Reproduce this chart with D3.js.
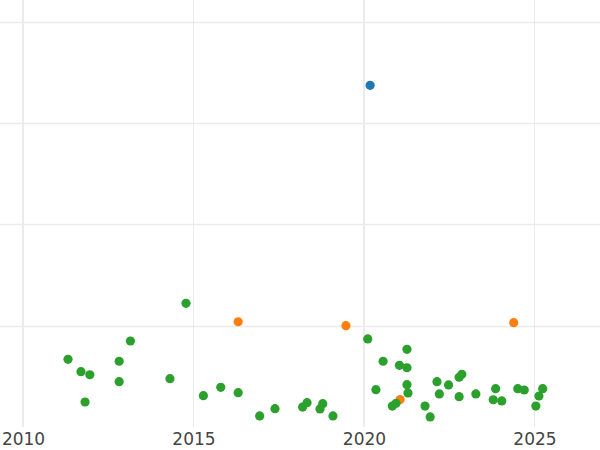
<!DOCTYPE html>
<html><head><meta charset="utf-8">
<script src="https://cdn.jsdelivr.net/npm/d3@7"></script>
<style>html,body{margin:0;padding:0;background:#fff;}svg{display:block;}</style>
</head><body>
<svg id="chart" width="600" height="450"></svg>
<script>
const xTicks = [2010, 2015, 2020, 2025];
const yTicks = [1, 2, 3, 4];

const blueX = [2020.18];
const blueY = [3.373];

const orangeX = [2016.31, 2019.47, 2021.06, 2024.39];
const orangeY = [1.039, 1.000, 0.271, 1.030];

const greenX = [2011.32, 2011.70, 2011.96, 2011.82, 2012.82, 2012.82, 2013.15, 2014.31, 2014.78,
  2015.29, 2015.80, 2016.31, 2016.94, 2017.39, 2018.20, 2018.33, 2018.71, 2018.79, 2019.09,
  2020.11, 2020.35, 2020.56, 2020.83, 2020.94, 2021.04, 2021.26, 2021.26, 2021.26, 2021.29,
  2021.79, 2021.94, 2022.14, 2022.21, 2022.48, 2022.79, 2022.79, 2022.87, 2023.28, 2023.79,
  2023.86, 2024.04, 2024.51, 2024.70, 2025.04, 2025.13, 2025.24];
const greenY = [0.668, 0.546, 0.516, 0.247, 0.649, 0.447, 0.849, 0.477, 1.221,
  0.309, 0.392, 0.339, 0.109, 0.181, 0.197, 0.240, 0.178, 0.230, 0.109,
  0.869, 0.368, 0.649, 0.207, 0.234, 0.609, 0.767, 0.585, 0.418, 0.336,
  0.207, 0.099, 0.447, 0.326, 0.415, 0.299, 0.491, 0.520, 0.326, 0.269,
  0.378, 0.257, 0.378, 0.365, 0.207, 0.306, 0.378];

const W = 600, plotBottom = 427;
const x = d3.scaleLinear().domain([2009.3255, 2026.921]).range([0, W]);
const y = d3.scaleLinear().domain([0, 4.215]).range([plotBottom, 0]);

const svg = d3.select('#chart');

// horizontal grid
svg.append('g').selectAll('line').data(yTicks).join('line')
  .attr('x1', 0).attr('x2', W)
  .attr('y1', d => Math.round(y(d)) + 0.5).attr('y2', d => Math.round(y(d)) + 0.5)
  .attr('stroke', '#ebebeb').attr('stroke-width', 1.5);

// vertical grid
svg.append('g').selectAll('line').data(xTicks).join('line')
  .attr('x1', d => x(d)).attr('x2', d => x(d))
  .attr('y1', 0).attr('y2', plotBottom)
  .attr('stroke', '#ebebeb')
  .attr('stroke-width', d => (d % 10 === 0 ? 2 : 1));

// x axis labels
const ax = svg.append('g').attr('transform', `translate(0,${plotBottom})`)
  .call(d3.axisBottom(x).tickValues(xTicks).tickFormat(d3.format('d')).tickSize(0).tickPadding(6));
ax.select('.domain').remove();
ax.selectAll('text').attr('font-family', 'DejaVu Sans').attr('font-size', 17).attr('fill', '#444');

function series(xs, ys, color) {
  svg.append('g').selectAll('circle').data(xs.map((d, i) => [d, ys[i]])).join('circle')
    .attr('cx', d => x(d[0])).attr('cy', d => y(d[1])).attr('r', 4.6)
    .attr('fill', color);
}
series(blueX, blueY, '#1f77b4');
series(orangeX, orangeY, '#ff7f0e');
series(greenX, greenY, '#2ca02c');
</script>
</body></html>
